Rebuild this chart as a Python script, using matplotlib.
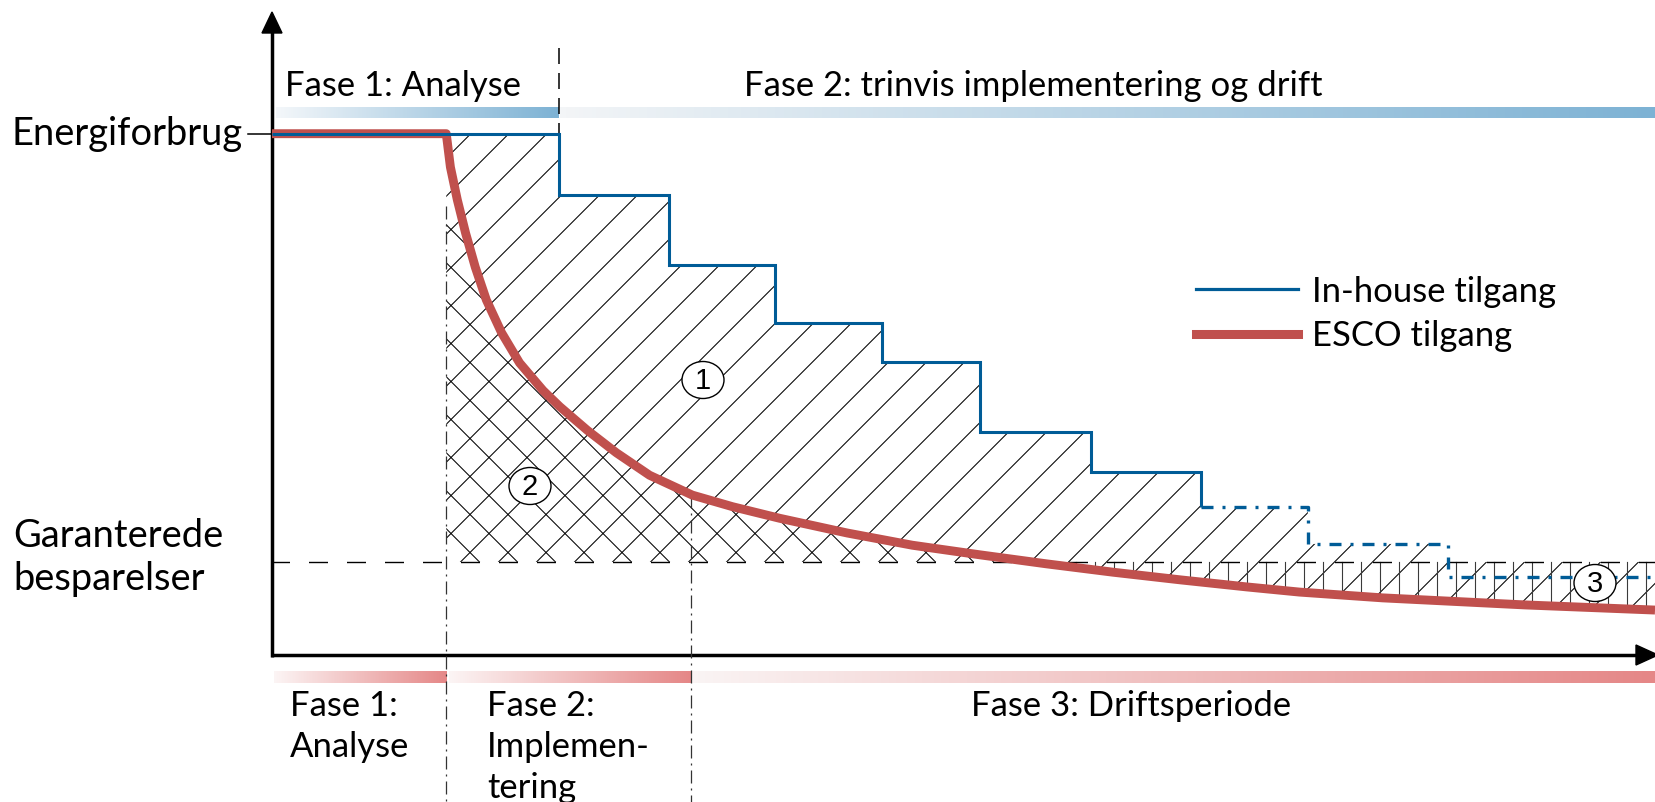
import numpy as np
import matplotlib
matplotlib.use("Agg")
import matplotlib.pyplot as plt
from matplotlib.collections import LineCollection
from matplotlib.patches import Polygon, Ellipse
from matplotlib.colors import LinearSegmentedColormap
from matplotlib.lines import Line2D

plt.rcParams["lines.scale_dashes"] = False
plt.rcParams["font.family"] = ["Lato", "DejaVu Sans"]

# ---------------- data (time and energy in % of the axis range) ----------------
baseline_energy = 81.2
guaranteed_level = 14.5
inhouse_step_edges = [0.0, 20.75, 28.7, 36.4, 44.1, 51.2, 59.2, 67.2, 74.9, 85.0, 100.0]
inhouse_levels = [81.2, 71.65, 60.75, 51.7, 45.6, 34.7, 28.5, 23.05, 17.3, 12.15]
inhouse_solid_steps = 7
esco_time = [0.0, 12.6, 12.9, 13.4, 14.0, 14.7, 15.5, 16.6, 17.9, 19.6, 20.8, 22.8, 24.9,
             27.3, 30.4, 33.3, 36.7, 41.6, 46.3, 51.2, 56.0, 60.8, 65.7, 70.5, 74.3,
             80.3, 90.6, 100.0]
esco_energy = [81.2, 81.2, 76.0, 70.9, 65.7, 60.4, 55.3, 50.2, 45.5, 41.2, 38.7, 35.0, 31.5,
               28.0, 24.9, 23.1, 21.3, 19.0, 17.1, 15.6, 14.2, 12.9, 11.7, 10.6, 9.8,
               8.9, 7.8, 7.0]
esco_phase_ends = [12.6, 30.3]
inhouse_phase_end = 20.75

top_labels = ["Fase 1: Analyse", "Fase 2: trinvis implementering og drift"]
bottom_labels = [["Fase 1:", "Analyse"], ["Fase 2:", "Implemen-", "tering"], ["Fase 3: Driftsperiode"]]
y_label_top = "Energiforbrug"
y_label_bottom = ["Garanterede", "besparelser"]
series_names = ["In-house tilgang", "ESCO tilgang"]
area_labels = ["1", "2", "3"]

BLUE = "#005C97"
RED = "#C0504D"
BAR_BLUE = "#7DB2D4"
BAR_RED = "#E58787"

# ---------------- layout ----------------
W, H, DPI = 1655, 802, 100
X0, Y0 = 272, 655      # axis origin (px, y downwards)
X1, Y1 = 1655, 13      # right / top ends

fig = plt.figure(figsize=(W / DPI, H / DPI), dpi=DPI)
fig.patch.set_facecolor("white")
ov = fig.add_axes([0, 0, 1, 1], zorder=0)
ov.set_xlim(0, W)
ov.set_ylim(H, 0)
ov.set_autoscale_on(False)
ov.axis("off")

ax = fig.add_axes([X0 / W, 1 - Y0 / H, (X1 - X0) / W, (Y0 - Y1) / H], zorder=1)
ax.set_xlim(0, 100)
ax.set_ylim(0, 100)
ax.set_autoscale_on(False)
ax.axis("off")
ax.patch.set_visible(False)


def px_x(x):
    return X0 + x * (X1 - X0) / 100.0


def px_y(y):
    return Y0 - y * (Y0 - Y1) / 100.0


def dat_x(px):
    return (px - X0) * 100.0 / (X1 - X0)


def dat_y(py):
    return (Y0 - py) * 100.0 / (Y0 - Y1)


PT = 72.0 / DPI  # points per pixel

renderer = fig.canvas.get_renderer()


def fit_size(text, width_px):
    probe = ov.text(0, 0, text, fontsize=20)
    w = probe.get_window_extent(renderer=renderer).width
    probe.remove()
    return 20 * width_px / w


FS = fit_size(top_labels[1], 580.0)
FS_Y = fit_size(y_label_top, 232.0)

# ---------------- hatched areas ----------------
def stair(edges, levels):
    xs, ys = [], []
    for i, lv in enumerate(levels):
        xs += [edges[i], edges[i + 1]]
        ys += [lv, lv]
    return np.array(xs), np.array(ys)


sx, sy = stair(inhouse_step_edges, inhouse_levels)
et = np.array(esco_time)
ee = np.array(esco_energy)
g = guaranteed_level
xa = esco_phase_ends[0]
xd = np.linspace(xa, 100, 2000)
cd = np.interp(xd, et, ee)
b_top = dat_y(206)

# area 1 (/): between in-house steps and the lower of guarantee / ESCO curve
upper = [(xa, inhouse_levels[0])] + [(x, max(y, g)) for x, y in zip(sx, sy) if x > xa]
lower = [(x, min(c, g)) for x, c in zip(xd[::-1], cd[::-1])]
polyA = Polygon(upper + lower, closed=True, transform=ax.transData)
# area 2 (\): below ESCO curve, above guarantee
mB = cd > g
ptsB = list(zip(xd[mB], np.minimum(cd[mB], b_top))) + [(xd[mB][-1], g), (xa, g)]
polyB = Polygon(ptsB, closed=True, transform=ax.transData)
# area 3 (|): below guarantee, above ESCO curve
mC = cd < g
ptsC = list(zip(xd[mC], np.full(mC.sum(), g))) + list(zip(xd[mC][::-1], cd[mC][::-1]))
polyC = Polygon(ptsC, closed=True, transform=ax.transData)

segA = []
for k in range(-40, 80):
    c = 1364.5 + 38 * k
    segA.append([(-50, c + 50), (W + 50, c - W - 50)])
segB = []
for k in range(-60, 60):
    d = -259.5 - 38 * k
    segB.append([(-50, d - 50), (W + 50, W + 50 + d)])
segC = []
for k in range(-60, 40):
    xv = 1076 + 19 * k
    segC.append([(xv, -10), (xv, H + 10)])

for segs, poly, col, lw in [(segA, polyA, "black", 0.75), (segB, polyB, "black", 0.75),
                            (segC, polyC, "#3a3a3a", 0.8)]:
    lc = LineCollection(segs, colors=col, linewidths=lw, transform=ov.transData, zorder=1)
    ax.add_collection(lc)
    lc.set_clip_path(poly)

# ---------------- reference lines ----------------
ax.plot([dat_x(255), 100], [g, g], color="black", lw=1.0,
        linestyle=(22.5 * PT, (19 * PT, 19 * PT)), clip_on=False, zorder=2)
dashdot = (0, (13 * PT, 5 * PT, 2 * PT, 5 * PT))
ax.plot([esco_phase_ends[0]] * 2, [b_top, dat_y(H + 5)], color="#333333", lw=0.9,
        linestyle=dashdot, clip_on=False, zorder=2)
ax.plot([esco_phase_ends[1]] * 2, [np.interp(esco_phase_ends[1], et, ee), dat_y(H + 5)],
        color="#333333", lw=0.9, linestyle=dashdot, clip_on=False, zorder=2)
ax.plot([inhouse_phase_end] * 2, [dat_y(48), baseline_energy], color="black", lw=1.1,
        linestyle=(0, (16 * PT, 9 * PT)), clip_on=False, zorder=2)

# ---------------- series ----------------
ax.plot(esco_time, esco_energy, color=RED, lw=6.4, solid_capstyle="butt",
        solid_joinstyle="round", zorder=3, clip_on=False)
n = 2 * inhouse_solid_steps
ax.plot(sx[:n + 1], sy[:n + 1], color=BLUE, lw=2.2, solid_joinstyle="miter",
        solid_capstyle="butt", zorder=4, clip_on=False)
ax.plot(sx[n:], sy[n:], color=BLUE, lw=2.4, linestyle=(0, (12 * PT, 9 * PT, 3 * PT, 9 * PT)),
        zorder=4, clip_on=False)

# ---------------- axes with arrows ----------------
ov.plot([X0, X0], [Y0 + 1.5, 30], color="black", lw=2.5, solid_capstyle="butt", zorder=5)
ov.add_patch(Polygon([(X0 - 10, 33), (X0 + 10, 33), (X0, 12)], closed=True,
                     color="black", zorder=5))
ov.plot([X0 - 1.5, 1638], [Y0, Y0], color="black", lw=2.5, solid_capstyle="butt", zorder=5)
ov.add_patch(Polygon([(1636, Y0 - 10), (1636, Y0 + 10), (1658, Y0)], closed=True,
                     color="black", zorder=5))
ov.plot([248, X0], [px_y(baseline_energy)] * 2, color="black", lw=1.1, zorder=5)

# ---------------- gradient bars ----------------
def grad_bar(x0, x1, ytop, ybot, c0, c1):
    cmap = LinearSegmentedColormap.from_list("g", [c0, c1])
    ov.imshow(np.linspace(0, 1, 256)[None, :], cmap=cmap, extent=(x0, x1, ybot, ytop),
              aspect="auto", interpolation="bilinear", zorder=1)


grad_bar(276, px_x(inhouse_phase_end), 107, 118, "#F4F7FA", BAR_BLUE)
grad_bar(px_x(inhouse_phase_end) + 1, W, 107, 118, "#F3F5F7", BAR_BLUE)
grad_bar(274, px_x(esco_phase_ends[0]), 671, 683, "#FCF5F5", BAR_RED)
grad_bar(px_x(esco_phase_ends[0]) + 3, px_x(esco_phase_ends[1]), 671, 683, "#FCF5F5", BAR_RED)
grad_bar(px_x(esco_phase_ends[1]) + 1, W, 671, 683, "#FAF4F4", BAR_RED)

# ---------------- texts ----------------
ov.text(285, 96.5, top_labels[0], fontsize=FS, va="baseline", ha="left")
ov.text(743.5, 96.5, top_labels[1], fontsize=FS, va="baseline", ha="left")
ov.text(243, 145, y_label_top, fontsize=FS_Y, va="baseline", ha="right")
ov.text(13, 547, y_label_bottom[0], fontsize=FS_Y, va="baseline", ha="left")
ov.text(13, 590, y_label_bottom[1], fontsize=FS_Y, va="baseline", ha="left")
for xs_, lines in zip([290, 487, 971], bottom_labels):
    for i, line in enumerate(lines):
        ov.text(xs_, 716 + 41 * i, line, fontsize=FS, va="baseline", ha="left")

# ---------------- circled area numbers ----------------
for (cx, cy), lab in zip([(703, 380), (530, 486), (1595, 583)], area_labels):
    ax.add_patch(Ellipse((cx, cy), 42, 37, facecolor="white", edgecolor="black", lw=1.0,
                         transform=ov.transData, zorder=10, clip_on=False))
    ax.text(cx, cy + 1, lab, fontsize=21, family=["Liberation Sans", "DejaVu Sans"],
            ha="center", va="center", transform=ov.transData, zorder=11)

# ---------------- legend ----------------
handles = [Line2D([], [], color=BLUE, lw=2.3), Line2D([], [], color=RED, lw=6.5)]
ax.legend(handles, series_names, loc="center left", bbox_to_anchor=(1196, 314),
          bbox_transform=ov.transData, frameon=False, fontsize=FS,
          handlelength=102 * PT / FS, handletextpad=14 * PT / FS,
          labelspacing=(54.5 * PT - 1.2 * FS) / FS, borderpad=0, borderaxespad=0)

fig.savefig("out.png", dpi=DPI, facecolor="white")
